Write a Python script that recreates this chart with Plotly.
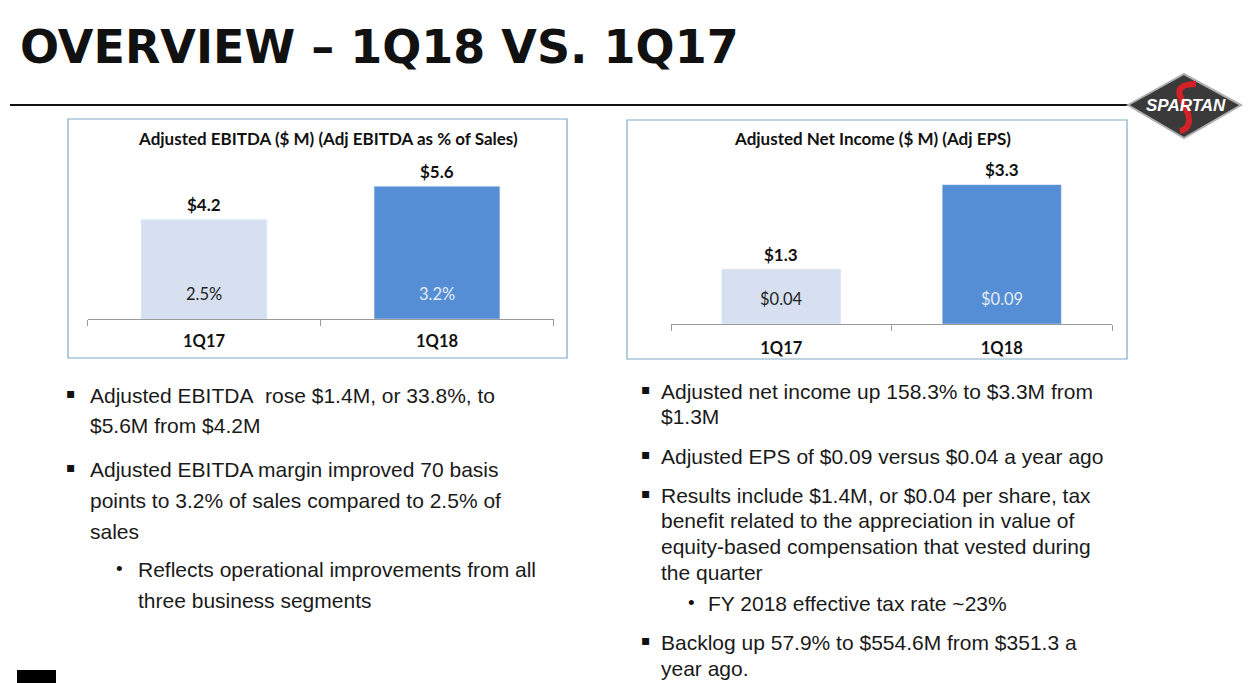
import plotly.graph_objects as go

W, H = 1255, 683

# ---- data ----
categories = ["1Q17", "1Q18"]
ebitda_values = [4.2, 5.6]
ebitda_pct_labels = ["2.5%", "3.2%"]
netinc_values = [1.3, 3.3]
eps_labels = ["$0.04", "$0.09"]
chart1_title = "Adjusted EBITDA ($ M) (Adj EBITDA as % of Sales)"
chart2_title = "Adjusted Net Income ($ M) (Adj EPS)"
page_title = "OVERVIEW – 1Q18 VS. 1Q17"

left_lines = [
    ("b", "Adjusted EBITDA&nbsp; rose $1.4M, or 33.8%, to", 395),
    ("", "$5.6M from $4.2M", 425),
    ("b", "Adjusted EBITDA margin improved 70 basis", 469),
    ("", "points to 3.2% of sales compared to 2.5% of", 500),
    ("", "sales", 531),
    ("s", "Reflects operational improvements from all", 569),
    ("s2", "three business segments", 600),
]
right_lines = [
    ("b", "Adjusted net income up 158.3% to $3.3M from", 391),
    ("", "$1.3M", 416),
    ("b", "Adjusted EPS of $0.09 versus $0.04 a year ago", 456),
    ("b", "Results include $1.4M, or $0.04 per share, tax", 495),
    ("", "benefit related to the appreciation in value of", 520),
    ("", "equity-based compensation that vested during", 546),
    ("", "the quarter", 572),
    ("s", "FY 2018 effective tax rate ~23%", 603),
    ("b", "Backlog up 57.9% to $554.6M from $351.3 a", 642),
    ("", "year ago.", 668),
]

LIGHT = "#D7E0F0"
DARK = "#558ED5"
CHART_FONT = "Lato"
BODY_FONT = "Liberation Sans"


def px(x):
    return x / W


def py(y):
    return 1 - y / H


fig = go.Figure()
fig.add_trace(go.Bar(x=categories, y=ebitda_values, marker_color=[LIGHT, DARK],
                     width=0.54, xaxis="x", yaxis="y", hoverinfo="skip"))
fig.add_trace(go.Bar(x=categories, y=netinc_values, marker_color=[LIGHT, DARK],
                     width=0.54, xaxis="x2", yaxis="y2", hoverinfo="skip"))

axis_common = dict(
    showgrid=False, zeroline=False, showline=True, linecolor="#9A9A9A", linewidth=1,
    ticks="outside", tickson="boundaries", ticklen=6, tickcolor="#9A9A9A",
    tickfont=dict(family=CHART_FONT, size=16.5, color="#111111", weight="bold"),
    range=[-0.5, 1.5], fixedrange=True,
)
yaxis_common = dict(showgrid=False, zeroline=False, showline=False, showticklabels=False,
                    ticks="", fixedrange=True)

annotations = []
annotations.append(dict(x=px(328), y=py(138), xref="paper", yref="paper", text=chart1_title,
                        showarrow=False, xanchor="center", yanchor="middle",
                        font=dict(family=CHART_FONT, size=17, color="#111", weight="bold")))
annotations.append(dict(x=px(872), y=py(139), xref="paper", yref="paper", text=chart2_title,
                        showarrow=False, xanchor="center", yanchor="middle",
                        font=dict(family=CHART_FONT, size=17, color="#111", weight="bold")))

inner_colors = ["#222222", "#E3ECF8"]
for xa, ya, vals, inner in (("x", "y", ebitda_values, ebitda_pct_labels),
                            ("x2", "y2", netinc_values, eps_labels)):
    for i, c in enumerate(categories):
        annotations.append(dict(x=c, y=vals[i], xref=xa, yref=ya, text=f"<b>${vals[i]:.1f}</b>",
                                showarrow=False, yanchor="middle", yshift=15,
                                font=dict(family=CHART_FONT, size=17, color="#111")))
        annotations.append(dict(x=c, y=0, xref=xa, yref=ya, text=inner[i],
                                showarrow=False, yanchor="middle", yshift=25,
                                font=dict(family=CHART_FONT, size=16.5, color=inner_colors[i])))

annotations.append(dict(x=px(18), y=py(47), xref="paper", yref="paper", text=f"<b>{page_title}</b>",
                        showarrow=False, xanchor="left", yanchor="middle",
                        font=dict(family="DejaVu Sans", size=46, color="#111")))


def add_lines(lines, bx, tx, sbx, stx):
    for kind, txt, y in lines:
        if kind == "b":
            annotations.append(dict(x=px(bx), y=py(y - 2), xref="paper", yref="paper", text="▪",
                                    showarrow=False, xanchor="left", yanchor="middle",
                                    font=dict(family="DejaVu Sans", size=14, color="#111")))
        if kind == "s":
            annotations.append(dict(x=px(sbx), y=py(y - 1), xref="paper", yref="paper", text="•",
                                    showarrow=False, xanchor="left", yanchor="middle",
                                    font=dict(family=BODY_FONT, size=19, color="#111")))
        x = stx if kind in ("s", "s2") else tx
        annotations.append(dict(x=px(x), y=py(y), xref="paper", yref="paper", text=txt,
                                showarrow=False, xanchor="left", yanchor="middle",
                                font=dict(family=BODY_FONT, size=21, color="#1a1a1a")))


add_lines(left_lines, 64, 88, 114, 136)
add_lines(right_lines, 639, 659, 686, 706)

annotations.append(dict(x=px(1186), y=py(105), xref="paper", yref="paper", text="<b><i>SPARTAN</i></b>",
                        showarrow=False, xanchor="center", yanchor="middle",
                        font=dict(family=BODY_FONT, size=17, color="white")))

shapes = [
    dict(type="line", xref="paper", yref="paper", x0=px(10), x1=px(1130), y0=py(105), y1=py(105),
         line=dict(color="#111", width=2)),
    dict(type="rect", xref="paper", yref="paper", x0=px(68), x1=px(567), y0=py(119), y1=py(358),
         line=dict(color="#7FA9C8", width=1.2)),
    dict(type="rect", xref="paper", yref="paper", x0=px(627), x1=px(1127), y0=py(120), y1=py(359),
         line=dict(color="#7FA9C8", width=1.2)),
    dict(type="path", xref="paper", yref="paper",
         path=f"M {px(1128)},{py(105)} L {px(1184)},{py(74)} L {px(1241)},{py(105)} L {px(1184)},{py(138)} Z",
         fillcolor="#3A3A3A", line=dict(color="#B0B0B0", width=2)),
    dict(type="path", xref="paper", yref="paper",
         path=(f"M {px(1196)},{py(84)} Q {px(1176)},{py(84)} {px(1180)},{py(96)} "
               f"L {px(1188)},{py(114)} Q {px(1192)},{py(128)} {px(1180)},{py(131)}"),
         line=dict(color="#D42027", width=6)),
    dict(type="rect", xref="paper", yref="paper", x0=px(17), x1=px(56), y0=0, y1=py(670),
         fillcolor="black", line=dict(width=0)),
]
for s in shapes:
    s["layer"] = "below"

fig.update_layout(
    width=W, height=H, margin=dict(l=0, r=0, t=0, b=0),
    paper_bgcolor="white", plot_bgcolor="rgba(0,0,0,0)", showlegend=False,
    xaxis=dict(domain=[px(87.5), px(553.5)], anchor="y", ticklabelstandoff=7, **axis_common),
    yaxis=dict(domain=[py(319), py(150)], range=[0, 7.13], anchor="x", **yaxis_common),
    xaxis2=dict(domain=[px(671), px(1112)], anchor="y2", ticklabelstandoff=9, **axis_common),
    yaxis2=dict(domain=[py(324), py(150)], range=[0, 4.12], anchor="x2", **yaxis_common),
    annotations=annotations, shapes=shapes,
)

fig.write_html("out.html", config={"displayModeBar": False},
               post_script="document.body.style.margin='0';document.body.style.padding='0';")
